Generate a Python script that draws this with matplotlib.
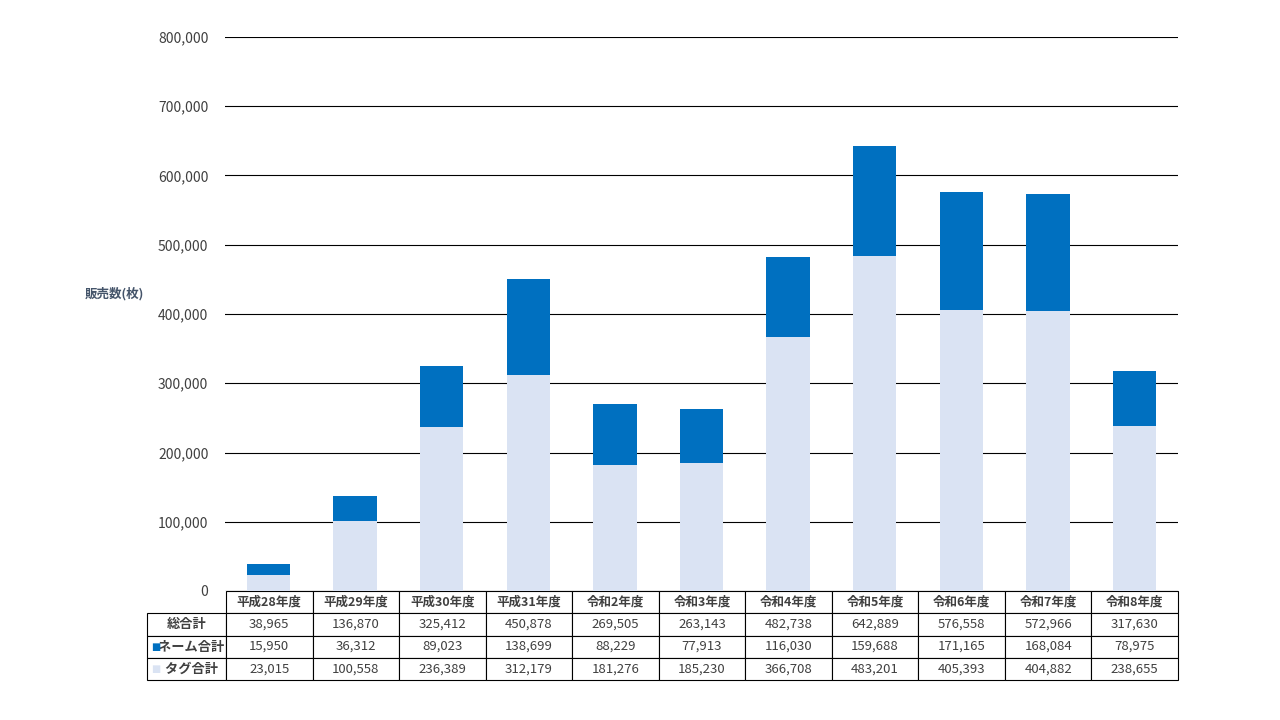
import matplotlib
matplotlib.use("Agg")
import matplotlib.pyplot as plt
from matplotlib.ticker import FuncFormatter

plt.rcParams['font.family'] = ['Noto Sans CJK JP', 'DejaVu Sans']

categories = ["平成28年度", "平成29年度", "平成30年度", "平成31年度", "令和2年度", "令和3年度",
              "令和4年度", "令和5年度", "令和6年度", "令和7年度", "令和8年度"]
total = [38965, 136870, 325412, 450878, 269505, 263143, 482738, 642889, 576558, 572966, 317630]
name_sum = [15950, 36312, 89023, 138699, 88229, 77913, 116030, 159688, 171165, 168084, 78975]
tag_sum = [23015, 100558, 236389, 312179, 181276, 185230, 366708, 483201, 405393, 404882, 238655]
row_labels = ["総合計", "ネーム合計", "タグ合計"]
y_label = "販売数(枚)"

DARK = "#0070C0"
LIGHT = "#DAE3F3"
TXT = "#404040"

fig = plt.figure(figsize=(12.8, 7.2), dpi=100)
ax = fig.add_axes([225/1280, 1-591/720, (1178-225)/1280, (591-37)/720])

x = list(range(len(categories)))
ax.bar(x, tag_sum, width=0.5, color=LIGHT, zorder=3)
ax.bar(x, name_sum, width=0.5, bottom=tag_sum, color=DARK, zorder=3)

ax.set_xlim(-0.5, len(categories) - 0.5)
ax.set_ylim(0, 800000)
ax.set_yticks(range(0, 800001, 100000))
ax.yaxis.set_major_formatter(FuncFormatter(lambda v, p: f"{int(v):,}"))
ax.tick_params(axis='y', length=0, pad=12, labelsize=10, labelcolor=TXT)
ax.set_xticks([])
ax.grid(axis='y', color="#000000", linewidth=0.8, zorder=0)
for s in ax.spines.values():
    s.set_visible(False)

fig.text(85/1280, 1-294/720, y_label, fontsize=9, fontweight='bold', color="#44546A",
         va='center', ha='left')

# table
label_text = ["総合計", "   " + row_labels[1], "   " + row_labels[2]]
cell_text = [[lab] + [f"{v:,}" for v in row] for lab, row in
             zip(label_text, [total, name_sum, tag_sum])]
col_labels = [""] + categories
w_label = 79.0
w_col = (1178 - 226) / len(categories)
tot_w = w_label + w_col * len(categories)
colw = [w_label / tot_w] + [w_col / tot_w] * len(categories)
ax_w = 1178 - 225
ax_h = 591 - 37
tb_h = (680 - 591) / ax_h
x0 = (147 - 225) / ax_w
tbl = ax.table(cellText=cell_text, colLabels=col_labels, colWidths=colw,
               bbox=[x0, -tb_h, tot_w / ax_w, tb_h], cellLoc='center')
tbl.auto_set_font_size(False)
for (r, c), cell in tbl.get_celld().items():
    cell.set_linewidth(0.8)
    cell.set_edgecolor("#000000")
    cell.get_text().set_fontsize(9.5)
    cell.get_text().set_color(TXT)
    if r == 0:
        cell.get_text().set_fontweight('bold')
        cell.get_text().set_fontsize(9)
    if c == 0:
        cell.get_text().set_fontweight('bold')
    if r == 0 and c == 0:
        cell.visible_edges = ''

# legend squares in row label cells
row_h = tb_h / 4
for i, col in [(2, DARK), (3, LIGHT)]:
    yc = -row_h * (i + 0.5)
    ax.text(x0 + 4 / ax_w, yc, "■", transform=ax.transAxes, color=col,
            fontsize=7, va='center', ha='left', family=['DejaVu Sans'])

fig.savefig("out.png", dpi=100)
